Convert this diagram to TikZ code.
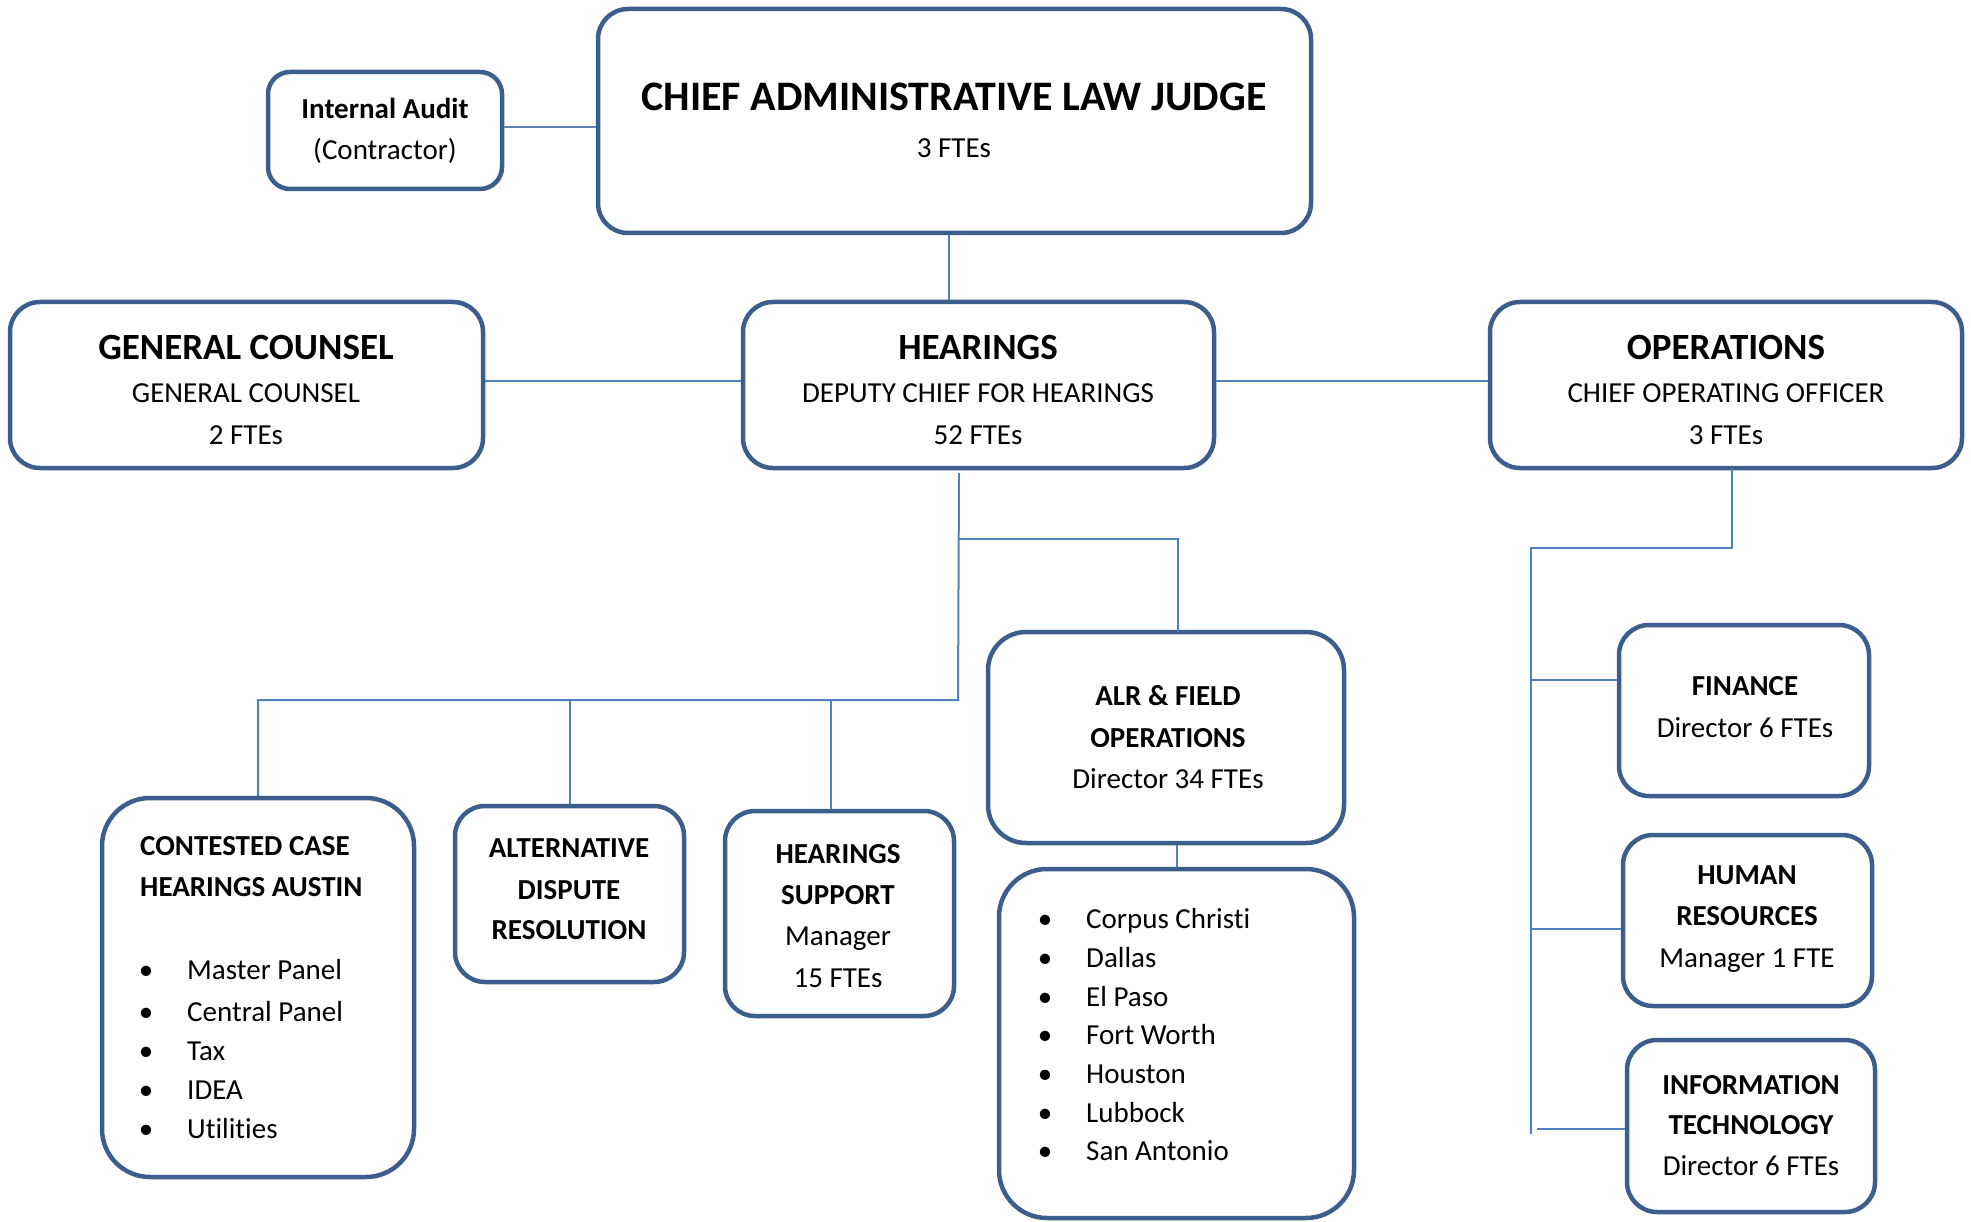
\documentclass[tikz,border=0pt]{standalone}
\usepackage{fontspec}
\setmainfont[Ligatures=NoCommon]{Carlito}
\usetikzlibrary{calc}
\definecolor{boxc}{RGB}{60,94,140}
\definecolor{linec}{RGB}{79,129,189}
\begin{document}
\begin{tikzpicture}[x=1pt,y=-1pt,
  box/.style={draw=boxc, line width=4.5pt, rounded corners=30pt, fill=white, inner sep=0pt},
  bigbox/.style={box, rounded corners=48pt},
  conn/.style={draw=linec, line width=2pt},
  thinconn/.style={draw=linec!80!gray, line width=1.5pt},
  tx/.style={font=\fontsize{29}{35}\selectfont, inner sep=0pt, anchor=base},
  txb/.style={tx, font=\fontsize{29}{35}\selectfont\bfseries},
  hd/.style={tx, font=\fontsize{37}{44}\selectfont\bfseries},
  chd/.style={tx, font=\fontsize{42}{50}\selectfont\bfseries},
  lt/.style={tx, anchor=base west}
]
\useasboundingbox (0,0) rectangle (1971,1222);
\fill[white] (0,0) rectangle (1971,1222);

% boxes
\node[box, minimum width=713pt, minimum height=224pt] (chief) at (954.5,121) {};
\node[box, minimum width=234pt, minimum height=117pt, rounded corners=22pt] (ia) at (385,130.5) {};
\node[box, minimum width=473pt, minimum height=166pt] (gc) at (246.5,385) {};
\node[box, minimum width=471pt, minimum height=166pt] (hear) at (978.5,385) {};
\node[box, minimum width=472pt, minimum height=166pt] (ops) at (1726,385) {};
\node[bigbox, minimum width=312pt, minimum height=379pt] (cc) at (258,987.5) {};
\node[box, minimum width=229pt, minimum height=176pt] (adr) at (569.5,894) {};
\node[box, minimum width=229pt, minimum height=205pt] (hs) at (839.5,913.5) {};
\node[box, minimum width=356pt, minimum height=211pt, rounded corners=38pt] (alr) at (1166,737.5) {};
\node[bigbox, minimum width=355pt, minimum height=349pt] (cities) at (1176.5,1043.5) {};
\node[box, minimum width=250pt, minimum height=171pt] (fin) at (1744,710.5) {};
\node[box, minimum width=249pt, minimum height=171pt] (hr) at (1747.5,920.5) {};
\node[box, minimum width=248pt, minimum height=172pt] (it) at (1751,1126) {};

% junction coordinates
\coordinate (hy) at (0,381);
\coordinate (hb) at (959,473);
\coordinate (j1) at (959,539);
\coordinate (j2) at (958,700);
\coordinate (jl) at (258,700);
\coordinate (alrtop) at (1178,632);
\coordinate (ob) at (1732,468);
\coordinate (oj) at (1531,548);
\coordinate (obot) at (1531,1134);
\coordinate (fb) at (1531,680);
\coordinate (hrb) at (1531,929);
\coordinate (itb) at (1537,1129);

% connectors
\draw[thinconn] (ia.east |- 0,127) -- (chief.west |- 0,127);
\draw[conn] (chief.south -| 949,0) -- (hear.north -| 949,0);
\draw[conn] (gc.east |- hy) -- (hear.west |- hy);
\draw[conn] (hear.east |- hy) -- (ops.west |- hy);
\draw[conn] (hb) -- (j2) -- (jl) -- (cc.north);
\draw[conn] (j1) -- (j1 -| alrtop) -- (alrtop);
\draw[conn] (adr.north |- j2) -- (adr.north);
\draw[conn] (hs.north -| 831,0) -- (j2 -| 831,0);
\draw[conn] (alr.south -| 1177,0) -- (cities.north -| 1177,0);
\draw[conn] (ob) -- (ob |- oj) -- (oj) -- (obot);
\draw[conn] (fb) -- (fb -| fin.west);
\draw[conn] (hrb) -- (hrb -| hr.west);
\draw[conn] (itb) -- (itb -| it.west);

% texts
\node[chd] (t1) at (954,111) {CHIEF ADMINISTRATIVE LAW JUDGE};
\node[tx] (t2) at (954,158) {3 FTEs};
\node[txb] (t3) at (385,119) {Internal Audit};
\node[tx] (t4) at (385,160) {(Contractor)};

\node[hd] (t5) at (246,360) {GENERAL COUNSEL};
\node[tx] (t6) at (246,403) {GENERAL COUNSEL};
\node[tx] (t7) at (246,445) {2 FTEs};

\node[hd] (t8) at (978,360) {HEARINGS};
\node[tx] (t9) at (978,403) {DEPUTY CHIEF FOR HEARINGS};
\node[tx] (t10) at (978,445) {52 FTEs};

\node[hd] (t11) at (1726,360) {OPERATIONS};
\node[tx] (t12) at (1726,403) {CHIEF OPERATING OFFICER};
\node[tx] (t13) at (1726,445) {3 FTEs};

\node[txb] (t14) at (1168,705) {ALR \& FIELD};
\node[txb] (t15) at (1168,747) {OPERATIONS};
\node[tx] (t16) at (1168,788) {Director 34 FTEs};

\node[txb, anchor=base west] (t17) at (140,855) {CONTESTED CASE};
\node[txb, anchor=base west] (t18) at (140,896) {HEARINGS AUSTIN};
\foreach \y/\s [count=\i] in {979/Master Panel,1021/Central Panel,1060/Tax,1099/IDEA,1138/Utilities}{
  \node[tx] (ccb\i) at (146,\y) {•};
  \node[lt] (cct\i) at (187,\y) {\s};
}

\node[txb] (t19) at (569,857) {ALTERNATIVE};
\node[txb] (t20) at (569,899) {DISPUTE};
\node[txb] (t21) at (569,939) {RESOLUTION};

\node[txb] (t22) at (838,863) {HEARINGS};
\node[txb] (t23) at (838,904) {SUPPORT};
\node[tx] (t24) at (838,945) {Manager};
\node[tx] (t25) at (838,987) {15 FTEs};

\foreach \y/\s [count=\i] in {928/Corpus Christi,967/Dallas,1006/El Paso,1044/Fort Worth,1083/Houston,1122/Lubbock,1160/San Antonio}{
  \node[tx] (cb\i) at (1045,\y) {•};
  \node[lt] (ct\i) at (1086,\y) {\s};
}

\node[txb] (t26) at (1745,695) {FINANCE};
\node[tx] (t27) at (1745,737) {Director 6 FTEs};

\node[txb] (t28) at (1747,884) {HUMAN};
\node[txb] (t29) at (1747,925) {RESOURCES};
\node[tx] (t30) at (1747,967) {Manager 1 FTE};

\node[txb] (t31) at (1751,1094) {INFORMATION};
\node[txb] (t32) at (1751,1134) {TECHNOLOGY};
\node[tx] (t33) at (1751,1175) {Director 6 FTEs};
\end{tikzpicture}
\end{document}
